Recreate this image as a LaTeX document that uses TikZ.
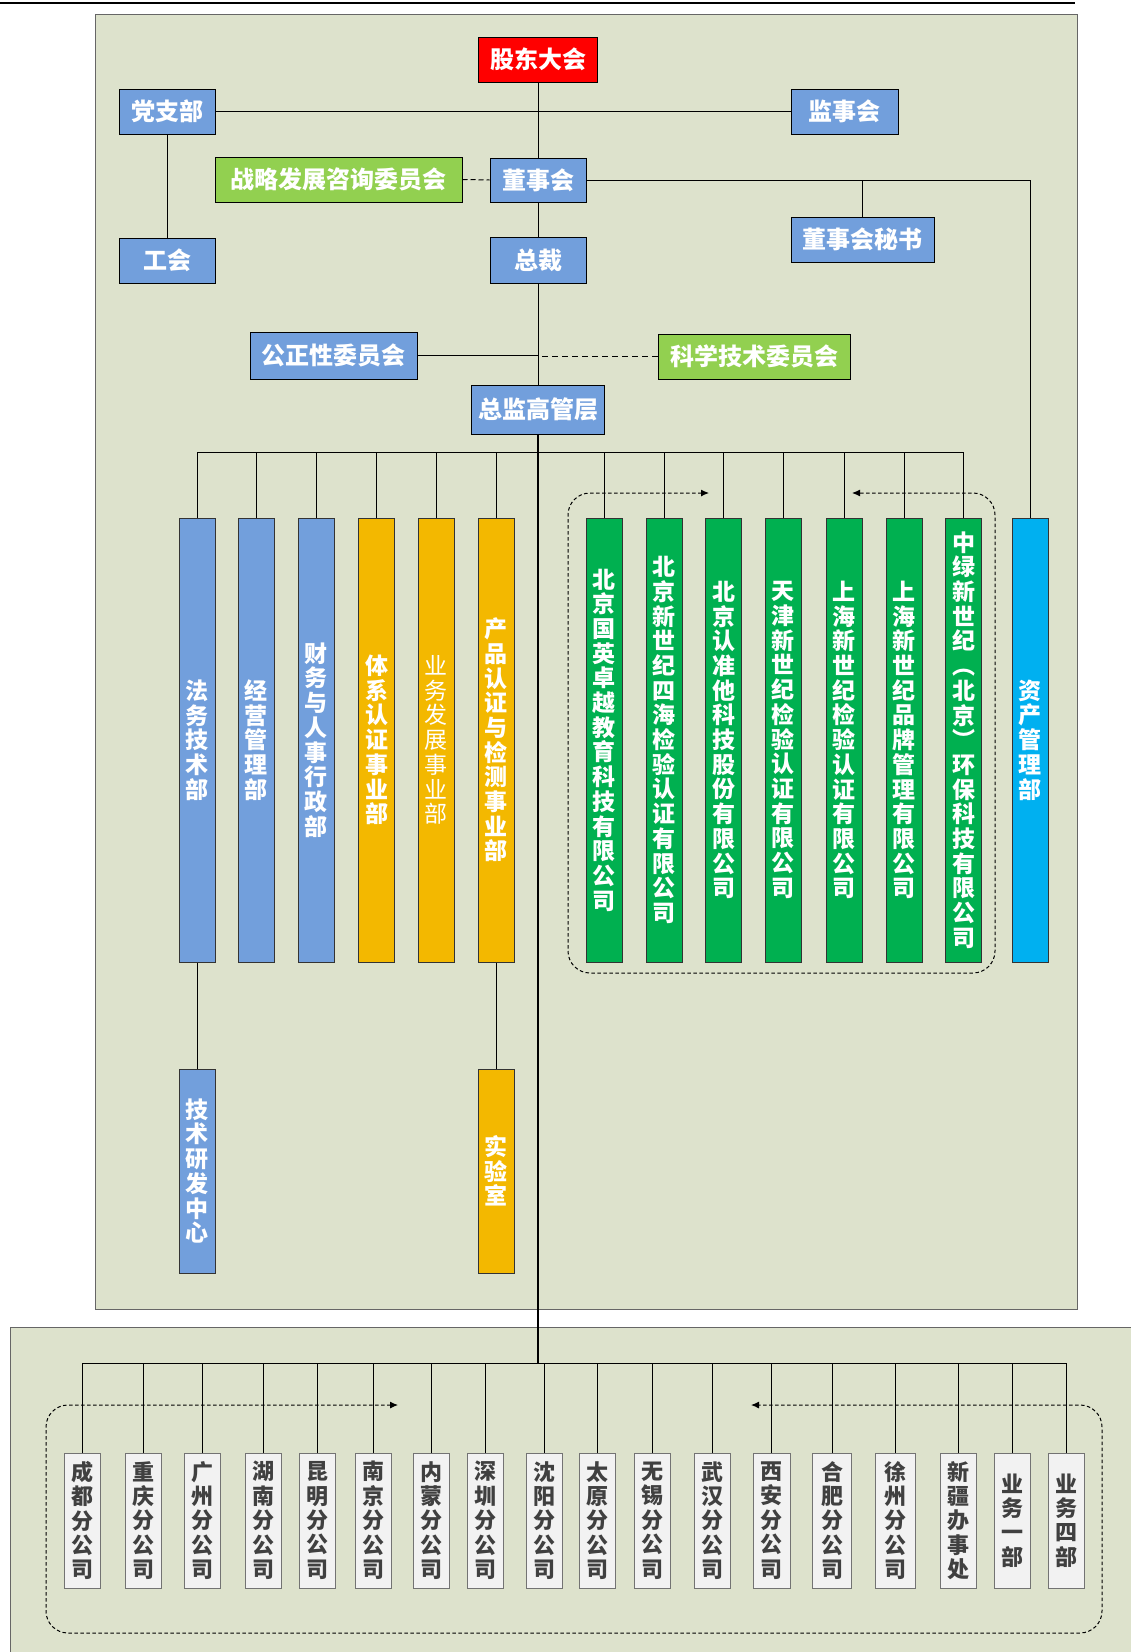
\documentclass[tikz,border=0pt]{standalone}
\usepackage{fontspec}
\setmainfont{Noto Sans CJK SC}
\usetikzlibrary{arrows.meta}

\definecolor{panelfill}{RGB}{221,226,204}
\definecolor{blueb}{RGB}{114,159,220}
\definecolor{goldb}{RGB}{243,184,0}
\definecolor{greenb}{RGB}{0,176,80}
\definecolor{lightgreenb}{RGB}{146,208,80}
\definecolor{cyanb}{RGB}{0,176,240}
\definecolor{redb}{RGB}{255,0,0}
\definecolor{subfill}{RGB}{242,242,242}
\definecolor{subtext}{RGB}{64,64,64}

% stack the characters of a name one above the other
\makeatletter
\def\vt@first#1{#1\vt@loop}
\def\vt@loop#1{\ifx#1\relax\else\noexpand\\#1\expandafter\vt@loop\fi}
\newcommand\vtxt[1]{\edef\vt@tmp{#1}\edef\vt@tmp{\expandafter\vt@first\vt@tmp\relax}\vt@tmp}
\makeatother

\tikzset{
  orgbox/.style={draw=black, line width=1pt, inner sep=0pt, text=white, font=\fontsize{24}{28}\selectfont\bfseries},
  colbox/.style={draw=black!80, line width=1pt, inner sep=0pt, minimum width=36, text=white, align=center, font=\fontsize{23}{24.7}\selectfont\bfseries},
  subbox/.style={draw=black!55, line width=1pt, fill=subfill, inner sep=0pt, minimum width=36, minimum height=135, text=subtext, align=center, font=\fontsize{22}{24.4}\selectfont\bfseries},
  link/.style={line width=1pt},
  trunk/.style={line width=2pt},
  loopline/.style={line width=1pt, dash pattern=on 3.5pt off 2.5pt, rounded corners=22, {Latex[length=8pt,width=7pt]}-{Latex[length=8pt,width=7pt]}},
}

\begin{document}
\begin{tikzpicture}[x=1pt,y=-1pt]
\useasboundingbox (0,0) rectangle (1131,1652);

%Shape: top rule
\draw[line width=2pt] (0,3) -- (1075,3);
%Shape: Rectangle (upper panel)
\draw[draw=black!60, fill=panelfill] (95,14) rectangle (1077,1309);
%Shape: Rectangle (lower panel)
\draw[draw=black!60, fill=panelfill] (10,1327) rectangle (1140,1660);

%Shape: dashed loops
\draw[loopline] (709,493) -- (568,493) -- (568,973) -- (995,973) -- (995,493) -- (852,493);
\draw[loopline] (398,1405) -- (46,1405) -- (46,1633) -- (1102,1633) -- (1102,1405) -- (751,1405);

% Top boxes
\node[orgbox, fill=redb, minimum width=119, minimum height=45] (gudong) at (538,59.5) {股东大会};
\node[orgbox, fill=blueb, minimum width=96, minimum height=45] (dangzhi) at (167,111.5) {党支部};
\node[orgbox, fill=blueb, minimum width=107, minimum height=45] (jianshi) at (844.5,111.5) {监事会};
\node[orgbox, fill=lightgreenb, minimum width=247, minimum height=45] (zhanlue) at (338.5,179.5) {战略发展咨询委员会};
\node[orgbox, fill=blueb, minimum width=96, minimum height=44] (dongshi) at (538,180) {董事会};
\node[orgbox, fill=blueb, minimum width=143, minimum height=45] (mishu) at (862.5,239.5) {董事会秘书};
\node[orgbox, fill=blueb, minimum width=96, minimum height=45] (gonghui) at (167,260.5) {工会};
\node[orgbox, fill=blueb, minimum width=96, minimum height=46] (zongcai) at (538,260) {总裁};
\node[orgbox, fill=blueb, minimum width=167, minimum height=47] (gongzheng) at (333.5,355.5) {公正性委员会};
\node[orgbox, fill=lightgreenb, minimum width=192, minimum height=45] (kexue) at (754,356.5) {科学技术委员会};
\node[orgbox, fill=blueb, minimum width=133, minimum height=49] (zongjian) at (538,409.5) {总监高管层};

% Departments
\node[colbox, fill=blueb, minimum height=444] (fawu) at (197,740) {\vtxt{法务技术部}};
\node[colbox, fill=blueb, minimum height=444] (jingying) at (256,740) {\vtxt{经营管理部}};
\node[colbox, fill=blueb, minimum height=444] (caiwu) at (316,740) {\vtxt{财务与人事行政部}};
\node[colbox, fill=goldb, minimum height=444] (tixi) at (376.5,740) {\vtxt{体系认证事业部}};
\node[colbox, fill=goldb, minimum height=444, font=\fontsize{23}{24.7}\selectfont] (yewufz) at (436,740) {\vtxt{业务发展事业部}};
\node[colbox, fill=goldb, minimum height=444] (chanpin) at (496,740) {\vtxt{产品认证与检测事业部}};
\node[colbox, fill=greenb, minimum height=444] (guoying) at (604,740) {\vtxt{北京国英卓越教育科技有限公司}};
\node[colbox, fill=greenb, minimum height=444] (sihai) at (664,740) {\vtxt{北京新世纪四海检验认证有限公司}};
\node[colbox, fill=greenb, minimum height=444] (renzhun) at (723.5,740) {\vtxt{北京认准他科技股份有限公司}};
\node[colbox, fill=greenb, minimum height=444] (tianjin) at (783,740) {\vtxt{天津新世纪检验认证有限公司}};
\node[colbox, fill=greenb, minimum height=444] (shjianyan) at (844,740) {\vtxt{上海新世纪检验认证有限公司}};
\node[colbox, fill=greenb, minimum height=444] (shpinpai) at (904,740) {\vtxt{上海新世纪品牌管理有限公司}};
\node[colbox, fill=greenb, minimum height=444] (zhonglv) at (963.5,740) {\vtxt{中绿新世纪︵北京︶环保科技有限公司}};
\node[colbox, fill=cyanb, minimum height=444] (zichan) at (1030,740) {\vtxt{资产管理部}};
\node[colbox, fill=blueb, minimum height=204] (jishu) at (197,1171) {\vtxt{技术研发中心}};
\node[colbox, fill=goldb, minimum height=204] (shiyan) at (496,1171) {\vtxt{实验室}};

% Branches
\node[subbox] (chengdu) at (82.5,1520.5) {\vtxt{成都分公司}};
\node[subbox] (chongqing) at (143,1520.5) {\vtxt{重庆分公司}};
\node[subbox] (guangzhou) at (202.5,1520.5) {\vtxt{广州分公司}};
\node[subbox] (hunan) at (263,1520.5) {\vtxt{湖南分公司}};
\node[subbox] (kunming) at (317,1520.5) {\vtxt{昆明分公司}};
\node[subbox] (nanjing) at (373,1520.5) {\vtxt{南京分公司}};
\node[subbox] (neimeng) at (431,1520.5) {\vtxt{内蒙分公司}};
\node[subbox] (shenzhen) at (485,1520.5) {\vtxt{深圳分公司}};
\node[subbox] (shenyang) at (544,1520.5) {\vtxt{沈阳分公司}};
\node[subbox] (taiyuan) at (597.5,1520.5) {\vtxt{太原分公司}};
\node[subbox] (wuxi) at (652,1520.5) {\vtxt{无锡分公司}};
\node[subbox] (wuhan) at (712,1520.5) {\vtxt{武汉分公司}};
\node[subbox, minimum width=37] (xian) at (771.5,1520.5) {\vtxt{西安分公司}};
\node[subbox, minimum width=39] (hefei) at (832,1520.5) {\vtxt{合肥分公司}};
\node[subbox, minimum width=40] (xuzhou) at (895.5,1520.5) {\vtxt{徐州分公司}};
\node[subbox] (xinjiang) at (958,1520.5) {\vtxt{新疆办事处}};
\node[subbox] (yewuyi) at (1012,1520.5) {\vtxt{业务一部}};
\node[subbox] (yewusi) at (1066,1520.5) {\vtxt{业务四部}};

% Connectors, top part
\draw[link] (gudong.south) -- (dongshi.north);
\draw[link] (dongshi.south) -- (zongcai.north);
\draw[link] (zongcai.south) -- (zongjian.north);
\draw[link] (dangzhi.east) -- (jianshi.west);
\draw[link] (dangzhi.south) -- (gonghui.north);
\draw[link, dash pattern=on 5pt off 3pt] (zhanlue.east) -- (dongshi.west);
\draw[link] (dongshi.east) -| (zichan.north);
\draw[link] (mishu.north) -- (mishu.north |- dongshi.east);
\draw[link] (gongzheng.east) -- (gongzheng.east -| zongcai.south);
\draw[link, dash pattern=on 6pt off 4pt] (kexue.west) -- (kexue.west -| zongcai.south);

% Connectors, departments
\coordinate (upbus) at (538,452);
\draw[link] (upbus) -| (fawu.north);
\draw[link] (upbus) -| (jingying.north);
\draw[link] (upbus) -| (caiwu.north);
\draw[link] (upbus) -| (tixi.north);
\draw[link] (upbus) -| (yewufz.north);
\draw[link] (upbus) -| (chanpin.north);
\draw[link] (upbus) -| (guoying.north);
\draw[link] (upbus) -| (sihai.north);
\draw[link] (upbus) -| (renzhun.north);
\draw[link] (upbus) -| (tianjin.north);
\draw[link] (upbus) -| (shjianyan.north);
\draw[link] (upbus) -| (shpinpai.north);
\draw[link] (upbus) -| (zhonglv.north);
\draw[link] (fawu.south) -- (jishu.north);
\draw[link] (chanpin.south) -- (shiyan.north);

% Connectors, branches
\coordinate (lowbus) at (538,1363);
\draw[trunk] (zongjian.south) -- (lowbus);
\draw[link] (lowbus) -| (chengdu.north);
\draw[link] (lowbus) -| (chongqing.north);
\draw[link] (lowbus) -| (guangzhou.north);
\draw[link] (lowbus) -| (hunan.north);
\draw[link] (lowbus) -| (kunming.north);
\draw[link] (lowbus) -| (nanjing.north);
\draw[link] (lowbus) -| (neimeng.north);
\draw[link] (lowbus) -| (shenzhen.north);
\draw[link] (lowbus) -| (shenyang.north);
\draw[link] (lowbus) -| (taiyuan.north);
\draw[link] (lowbus) -| (wuxi.north);
\draw[link] (lowbus) -| (wuhan.north);
\draw[link] (lowbus) -| (xian.north);
\draw[link] (lowbus) -| (hefei.north);
\draw[link] (lowbus) -| (xuzhou.north);
\draw[link] (lowbus) -| (xinjiang.north);
\draw[link] (lowbus) -| (yewuyi.north);
\draw[link] (lowbus) -| (yewusi.north);

\end{tikzpicture}
\end{document}
